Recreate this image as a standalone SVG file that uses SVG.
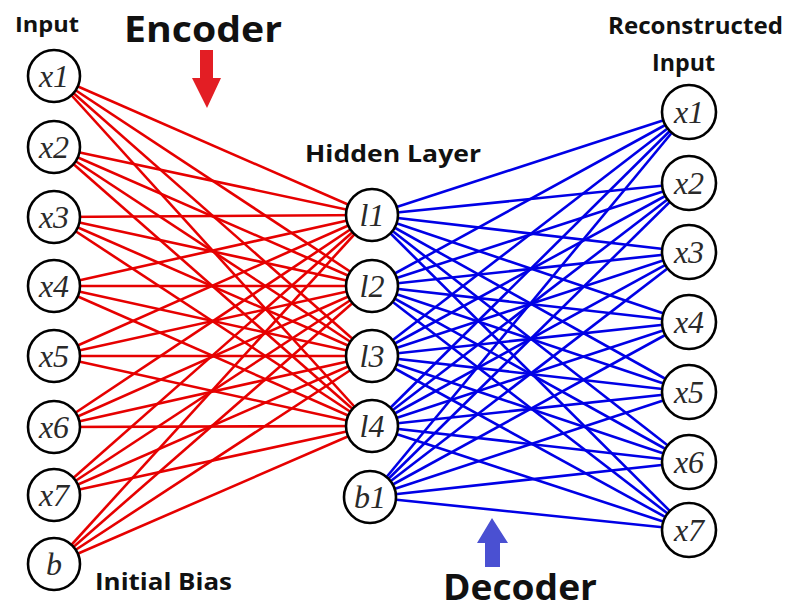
<svg xmlns="http://www.w3.org/2000/svg" width="791" height="612" viewBox="0 0 791 612">
<style>
.enc{stroke:#e60000;stroke-width:2.6;fill:none}
.dec{stroke:#0000e6;stroke-width:2.6;fill:none}
.node circle{fill:#fff;stroke:#000;stroke-width:2.6}
.node text{font-family:"Liberation Serif","DejaVu Serif",serif;font-style:italic;font-size:32px;fill:#2a2a2a;text-anchor:middle}
.lbl{font-family:"Open Sans","Liberation Sans",sans-serif;font-weight:bold;fill:#111}
</style>
<rect width="791" height="612" fill="#fff"/>
<g id="connectors">
<g class="enc">
<line x1="54" y1="76" x2="372" y2="215"/><line x1="54" y1="76" x2="372" y2="286"/><line x1="54" y1="76" x2="372" y2="356"/><line x1="54" y1="76" x2="372" y2="426"/>
<line x1="54" y1="147" x2="372" y2="215"/><line x1="54" y1="147" x2="372" y2="286"/><line x1="54" y1="147" x2="372" y2="356"/><line x1="54" y1="147" x2="372" y2="426"/>
<line x1="54" y1="217" x2="372" y2="215"/><line x1="54" y1="217" x2="372" y2="286"/><line x1="54" y1="217" x2="372" y2="356"/><line x1="54" y1="217" x2="372" y2="426"/>
<line x1="54" y1="286" x2="372" y2="215"/><line x1="54" y1="286" x2="372" y2="286"/><line x1="54" y1="286" x2="372" y2="356"/><line x1="54" y1="286" x2="372" y2="426"/>
<line x1="54" y1="356" x2="372" y2="215"/><line x1="54" y1="356" x2="372" y2="286"/><line x1="54" y1="356" x2="372" y2="356"/><line x1="54" y1="356" x2="372" y2="426"/>
<line x1="54" y1="427" x2="372" y2="215"/><line x1="54" y1="427" x2="372" y2="286"/><line x1="54" y1="427" x2="372" y2="356"/><line x1="54" y1="427" x2="372" y2="426"/>
<line x1="54" y1="495" x2="372" y2="215"/><line x1="54" y1="495" x2="372" y2="286"/><line x1="54" y1="495" x2="372" y2="356"/><line x1="54" y1="495" x2="372" y2="426"/>
<line x1="54" y1="564" x2="372" y2="215"/><line x1="54" y1="564" x2="372" y2="286"/><line x1="54" y1="564" x2="372" y2="356"/><line x1="54" y1="564" x2="372" y2="426"/>
</g>
<g class="dec">
<line x1="372" y1="215" x2="689" y2="112"/><line x1="372" y1="215" x2="689" y2="183"/><line x1="372" y1="215" x2="689" y2="252"/><line x1="372" y1="215" x2="689" y2="322"/><line x1="372" y1="215" x2="689" y2="392"/><line x1="372" y1="215" x2="689" y2="462"/><line x1="372" y1="215" x2="689" y2="530"/>
<line x1="372" y1="286" x2="689" y2="112"/><line x1="372" y1="286" x2="689" y2="183"/><line x1="372" y1="286" x2="689" y2="252"/><line x1="372" y1="286" x2="689" y2="322"/><line x1="372" y1="286" x2="689" y2="392"/><line x1="372" y1="286" x2="689" y2="462"/><line x1="372" y1="286" x2="689" y2="530"/>
<line x1="372" y1="356" x2="689" y2="112"/><line x1="372" y1="356" x2="689" y2="183"/><line x1="372" y1="356" x2="689" y2="252"/><line x1="372" y1="356" x2="689" y2="322"/><line x1="372" y1="356" x2="689" y2="392"/><line x1="372" y1="356" x2="689" y2="462"/><line x1="372" y1="356" x2="689" y2="530"/>
<line x1="372" y1="426" x2="689" y2="112"/><line x1="372" y1="426" x2="689" y2="183"/><line x1="372" y1="426" x2="689" y2="252"/><line x1="372" y1="426" x2="689" y2="322"/><line x1="372" y1="426" x2="689" y2="392"/><line x1="372" y1="426" x2="689" y2="462"/><line x1="372" y1="426" x2="689" y2="530"/>
<line x1="370" y1="497" x2="689" y2="112"/><line x1="370" y1="497" x2="689" y2="183"/><line x1="370" y1="497" x2="689" y2="252"/><line x1="370" y1="497" x2="689" y2="322"/><line x1="370" y1="497" x2="689" y2="392"/><line x1="370" y1="497" x2="689" y2="462"/><line x1="370" y1="497" x2="689" y2="530"/>
</g>
</g>
<g id="in-x1" class="node"><circle cx="54" cy="76" r="26"/><text x="54" y="87">x1</text></g>
<g id="in-x2" class="node"><circle cx="54" cy="147" r="26"/><text x="54" y="158">x2</text></g>
<g id="in-x3" class="node"><circle cx="54" cy="217" r="26"/><text x="54" y="228">x3</text></g>
<g id="in-x4" class="node"><circle cx="54" cy="286" r="26"/><text x="54" y="297">x4</text></g>
<g id="in-x5" class="node"><circle cx="54" cy="356" r="26"/><text x="54" y="367">x5</text></g>
<g id="in-x6" class="node"><circle cx="54" cy="427" r="26"/><text x="54" y="438">x6</text></g>
<g id="in-x7" class="node"><circle cx="54" cy="495" r="26"/><text x="54" y="506">x7</text></g>
<g id="in-b" class="node"><circle cx="54" cy="564" r="26"/><text x="54" y="575">b</text></g>
<g id="h-l1" class="node"><circle cx="372" cy="215" r="26"/><text x="372" y="226">l1</text></g>
<g id="h-l2" class="node"><circle cx="372" cy="286" r="26"/><text x="372" y="297">l2</text></g>
<g id="h-l3" class="node"><circle cx="372" cy="356" r="26"/><text x="372" y="367">l3</text></g>
<g id="h-l4" class="node"><circle cx="372" cy="426" r="26"/><text x="372" y="437">l4</text></g>
<g id="h-b1" class="node"><circle cx="370" cy="497" r="26"/><text x="370" y="508">b1</text></g>
<g id="out-x1" class="node"><circle cx="689" cy="112" r="27"/><text x="689" y="123">x1</text></g>
<g id="out-x2" class="node"><circle cx="689" cy="183" r="27"/><text x="689" y="194">x2</text></g>
<g id="out-x3" class="node"><circle cx="689" cy="252" r="27"/><text x="689" y="263">x3</text></g>
<g id="out-x4" class="node"><circle cx="689" cy="322" r="27"/><text x="689" y="333">x4</text></g>
<g id="out-x5" class="node"><circle cx="689" cy="392" r="27"/><text x="689" y="403">x5</text></g>
<g id="out-x6" class="node"><circle cx="689" cy="462" r="27"/><text x="689" y="473">x6</text></g>
<g id="out-x7" class="node"><circle cx="689" cy="530" r="27"/><text x="689" y="541">x7</text></g>
<g id="labels">
<text class="lbl" x="15" y="32" font-size="21" textLength="64" lengthAdjust="spacingAndGlyphs">Input</text>
<text class="lbl" x="124" y="42" font-size="35" textLength="158" lengthAdjust="spacingAndGlyphs">Encoder</text>
<text class="lbl" x="305" y="162" font-size="23" textLength="176" lengthAdjust="spacingAndGlyphs">Hidden Layer</text>
<text class="lbl" x="608" y="34" font-size="23" textLength="175" lengthAdjust="spacingAndGlyphs">Reconstructed</text>
<text class="lbl" x="652" y="71" font-size="23" textLength="63" lengthAdjust="spacingAndGlyphs">Input</text>
<text class="lbl" x="95" y="590" font-size="24" textLength="137" lengthAdjust="spacingAndGlyphs">Initial Bias</text>
<text class="lbl" x="443" y="600" font-size="35" textLength="154" lengthAdjust="spacingAndGlyphs">Decoder</text>
</g>
<g id="arrows">
<polygon points="200,50 213,50 213,78 221,78 207,108 192,78 200,78" fill="#e31e24"/>
<polygon points="492,518 508,543 500,543 500,567 485,567 485,543 477,543" fill="#4a50d2"/>
</g>
</svg>
